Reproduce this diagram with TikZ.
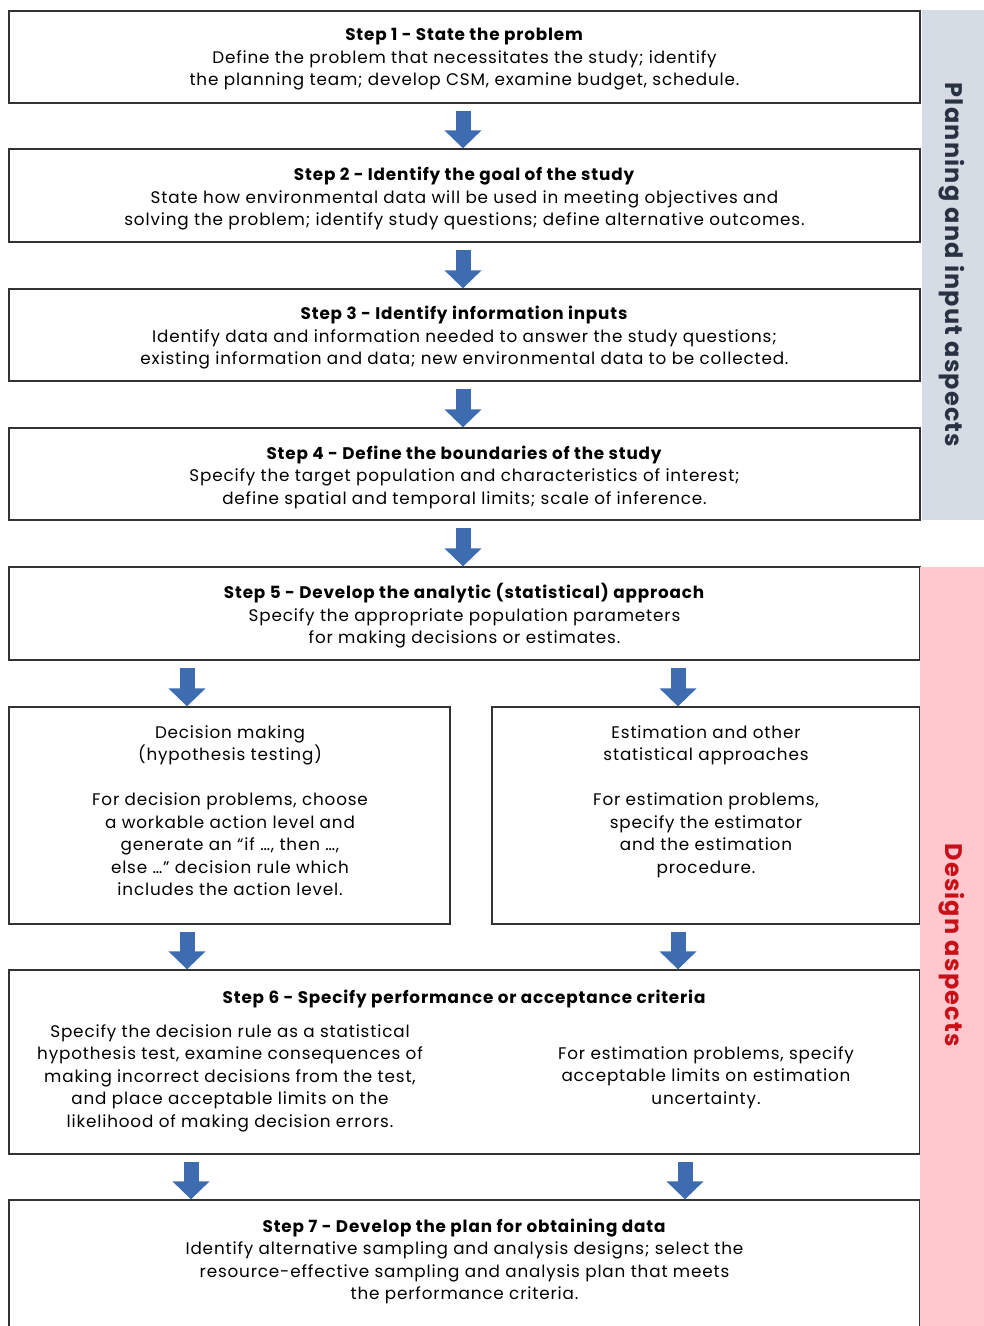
\documentclass[tikz,border=0pt]{standalone}
\usepackage{fontspec}
\setmainfont{Poppins}[LetterSpace=5]
\usetikzlibrary{arrows.meta}

\definecolor{arrowblue}{RGB}{62,108,176}
\definecolor{planbar}{RGB}{213,220,228}
\definecolor{designbar}{RGB}{255,199,206}
\definecolor{designred}{RGB}{200,16,24}
\definecolor{plantext}{RGB}{40,50,66}

\tikzset{
  stepbox/.style={draw=black!80, line width=1.3pt, fill=white, inner sep=0pt},
  steptext/.style={align=center, font=\fontsize{16.8}{22.5}\selectfont, inner sep=0pt},
  blockarr/.style={draw=arrowblue!80!black, line width=15pt, arrowblue,
    -{Triangle[width=36pt,length=18pt]}, shorten <=7pt},
  sidetext/.style={rotate=-90, font=\fontsize{24}{30}\selectfont\bfseries, inner sep=0pt}
}

\begin{document}
\begin{tikzpicture}[x=1pt, y=-1pt]
  \useasboundingbox (0,0) rectangle (984,1326);
  \clip (0,0) rectangle (984,1326);

  % steps 1-4
  \node[stepbox, minimum width=911pt, minimum height=92pt] (s1) at (464.5,57) {};
  \node[steptext] (t1) at (464.5,59.5) {\textbf{Step 1 - State the problem}\\
    Define the problem that necessitates the study; identify\\
    the planning team; develop CSM, examine budget, schedule.};
  \node[stepbox, minimum width=911pt, minimum height=93pt] (s2) at (464.5,195.5) {};
  \node[steptext] (t2) at (464.5,199) {\textbf{Step 2 - Identify the goal of the study}\\
    State how environmental data will be used in meeting objectives and\\
    solving the problem; identify study questions; define alternative outcomes.};
  \node[stepbox, minimum width=911pt, minimum height=92pt] (s3) at (464.5,335) {};
  \node[steptext] (t3) at (464.5,338) {\textbf{Step 3 - Identify information inputs}\\
    Identify data and information needed to answer the study questions;\\
    existing information and data; new environmental data to be collected.};
  \node[stepbox, minimum width=911pt, minimum height=92pt] (s4) at (464.5,474) {};
  \node[steptext] (t4) at (464.5,477) {\textbf{Step 4 - Define the boundaries of the study}\\
    Specify the target population and characteristics of interest;\\
    define spatial and temporal limits; scale of inference.};

  % step 5 and the two approaches
  \node[stepbox, minimum width=911pt, minimum height=93pt] (s5) at (464.5,613.5) {};
  \node[steptext] (t5) at (464.5,616) {\textbf{Step 5 - Develop the analytic (statistical) approach}\\
    Specify the appropriate population parameters\\
    for making decisions or estimates.};
  \node[stepbox, minimum width=441pt, minimum height=217pt] (dm) at (229.5,815.5) {};
  \node[steptext] (tdm) at (230,810.5) {Decision making\\(hypothesis testing)\\[22.5pt]
    For decision problems, choose\\a workable action level and\\
    generate an “if …, then …,\\else …” decision rule which\\includes the action level.};
  \node[stepbox, minimum width=428pt, minimum height=217pt] (est) at (706,815.5) {};
  \node[steptext, anchor=north] (test) at (tdm.north -| est.center) {Estimation and other\\statistical approaches\\[22.5pt]
    For estimation problems,\\specify the estimator\\and the estimation\\procedure.};

  % step 6
  \node[stepbox, minimum width=911pt, minimum height=184pt] (s6) at (464.5,1062) {};
  \node[steptext] (t6) at (464.5,999) {\textbf{Step 6 - Specify performance or acceptance criteria}};
  \node[steptext] (t6l) at (230,1078) {Specify the decision rule as a statistical\\
    hypothesis test, examine consequences of\\making incorrect decisions from the test,\\
    and place acceptable limits on the\\likelihood of making decision errors.};
  \node[steptext] (t6r) at (706,1077.5) {For estimation problems, specify\\
    acceptable limits on estimation\\uncertainty.};

  % step 7
  \node[stepbox, minimum width=911pt, minimum height=150pt] (s7) at (464.5,1275) {};
  \node[steptext] (t7) at (464.5,1261.5) {\textbf{Step 7 - Develop the plan for obtaining data}\\
    Identify alternative sampling and analysis designs; select the\\
    resource-effective sampling and analysis plan that meets\\the performance criteria.};

  % side bars
  \fill[planbar] (922,10) rectangle (984,520);
  \fill[designbar] (920,567) rectangle (984,1330);
  \node[sidetext, text=plantext] (plan) at (952,265) {Planning and input aspects};
  \node[sidetext, text=designred] (design) at (952,945) {Design aspects};

  % block arrows
  \coordinate (xm) at (463,0);
  \coordinate (xl) at (187,0);
  \coordinate (xr) at (678,0);
  \coordinate (xll) at (191,0);
  \coordinate (xrr) at (685,0);
  \draw[blockarr] (s1.south -| xm) -- (s2.north -| xm);
  \draw[blockarr] (s2.south -| xm) -- (s3.north -| xm);
  \draw[blockarr] (s3.south -| xm) -- (s4.north -| xm);
  \draw[blockarr] (s4.south -| xm) -- (s5.north -| xm);
  \draw[blockarr] (s5.south -| xl) -- (dm.north -| xl);
  \draw[blockarr] (s5.south -| xr) -- (est.north -| xr);
  \draw[blockarr] (dm.south -| xl) -- (s6.north -| xl);
  \draw[blockarr] (est.south -| xr) -- (s6.north -| xr);
  \draw[blockarr] (s6.south -| xll) -- (s7.north -| xll);
  \draw[blockarr] (s6.south -| xrr) -- (s7.north -| xrr);
\end{tikzpicture}
\end{document}
